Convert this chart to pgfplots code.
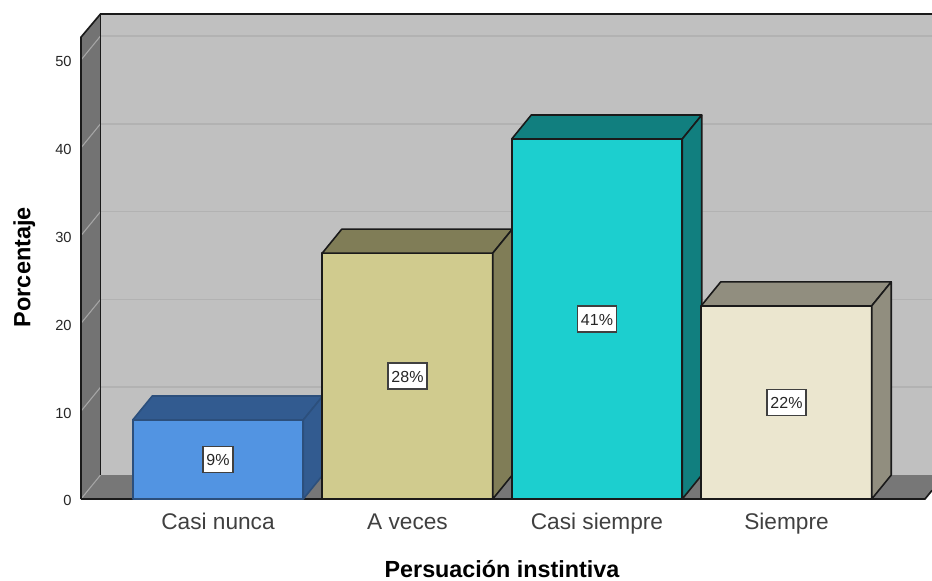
\documentclass[border=0pt]{standalone}
\usepackage{fontspec}
\setmainfont{Liberation Sans}
\usepackage{pgfplots}
\pgfplotsset{compat=1.18}
\definecolor{wallback}{HTML}{C0C0C0}
\definecolor{wallside}{HTML}{737373}
\definecolor{wallfloor}{HTML}{777777}
\definecolor{gridback}{HTML}{B2B2B2}
\definecolor{gridside}{HTML}{A6A6A6}
\definecolor{edge}{HTML}{1A1A1A}
\definecolor{blueF}{HTML}{5294E2}
\definecolor{blueD}{HTML}{325B90}
\definecolor{blueE}{HTML}{2C4F7C}
\definecolor{khakiF}{HTML}{D0CB8E}
\definecolor{khakiD}{HTML}{807D57}
\definecolor{cyanF}{HTML}{1CCFCF}
\definecolor{cyanD}{HTML}{117F7F}
\definecolor{creamF}{HTML}{EBE6CF}
\definecolor{creamD}{HTML}{918E7F}
\begin{document}
\begin{tikzpicture}
\path[use as bounding box] (0,0) rectangle (699pt,435.75pt);
\begin{axis}[
  at={(60.75pt,61.5pt)}, anchor=south west,
  scale only axis, width=638.25pt, height=363.75pt,
  xmin=-0.723, xmax=3.768, ymin=0, ymax=55.24,
  clip=false,
  axis line style={draw=none},
  tick style={draw=none},
  xtick={0,1,2,3},
  xticklabels={Casi nunca,A veces,Casi siempre,Siempre},
  ytick={0,10,20,30,40,50},
  /pgf/number format/assume math mode=true,
  xticklabel style={font=\fontsize{17pt}{19pt}\selectfont, text=black!75, text height=12pt, text depth=3.5pt, inner sep=0pt, yshift=-11pt},
  yticklabel style={font=\fontsize{11pt}{13pt}\selectfont, text=black!85, xshift=-3.5pt, yshift=-1.4pt},
  xlabel={Persuación instintiva},
  ylabel={Porcentaje},
  xlabel style={font=\bfseries\fontsize{17.5pt}{20pt}\selectfont, at={(axis description cs:0.4947,-0.144)}, anchor=center},
  ylabel style={font=\bfseries\fontsize{17.6pt}{20pt}\selectfont, at={(axis description cs:-0.0665,0.478)}, anchor=center},
]
% Chart box: back wall, left wall and floor
\addplot[fill=wallback, draw=none] coordinates {(-0.620,2.73)(-0.620,55.24)(3.768,55.24)(3.768,2.73)} -- cycle;
\addplot[fill=wallside, draw=none] coordinates {(-0.723,0)(-0.723,52.6)(-0.620,55.24)(-0.620,2.73)} -- cycle;
\addplot[fill=wallfloor, draw=none] coordinates {(-0.723,0)(-0.620,2.73)(3.768,2.73)(3.768,0.98)(3.731,0)} -- cycle;
% Gridlines on the back wall
\addplot[gridback, line width=1.3pt] coordinates {(-0.620,12.73)(3.768,12.73)};
\addplot[gridback, line width=1.3pt] coordinates {(-0.620,22.73)(3.768,22.73)};
\addplot[gridback, line width=1.3pt] coordinates {(-0.620,32.73)(3.768,32.73)};
\addplot[gridback, line width=1.3pt] coordinates {(-0.620,42.73)(3.768,42.73)};
\addplot[gridback, line width=1.3pt] coordinates {(-0.620,52.73)(3.768,52.73)};
% The same gridlines running across the left wall
\addplot[gridside, line width=0.8pt] coordinates {(-0.723,0)(-0.620,2.73)};
\addplot[gridside, line width=0.8pt] coordinates {(-0.723,10)(-0.620,12.73)};
\addplot[gridside, line width=0.8pt] coordinates {(-0.723,20)(-0.620,22.73)};
\addplot[gridside, line width=0.8pt] coordinates {(-0.723,30)(-0.620,32.73)};
\addplot[gridside, line width=0.8pt] coordinates {(-0.723,40)(-0.620,42.73)};
\addplot[gridside, line width=0.8pt] coordinates {(-0.723,50)(-0.620,52.73)};
% Box outline
\addplot[edge, line width=1.25pt] coordinates {(-0.723,0)(-0.723,52.6)(-0.620,55.24)(3.768,55.24)};
\addplot[edge, line width=1.25pt] coordinates {(-0.620,2.73)(-0.620,55.24)};
\addplot[edge, line width=1.25pt] coordinates {(-0.723,0)(3.731,0)(3.768,0.98)};
% Casi nunca
\addplot[fill=blueF, draw=blueE, line width=1.2pt, line join=round] coordinates {(-0.45,0)(-0.45,9)(0.45,9)(0.45,0)} -- cycle;
\addplot[fill=blueD, draw=blueE, line width=1.2pt, line join=round] coordinates {(-0.45,9)(-0.347,11.73)(0.553,11.73)(0.45,9)} -- cycle;
\addplot[fill=blueD, draw=blueE, line width=1.2pt, line join=round] coordinates {(0.45,0)(0.45,9)(0.553,11.73)(0.553,2.73)} -- cycle;
% A veces
\addplot[fill=khakiF, draw=edge, line width=1.2pt, line join=round] coordinates {(0.55,0)(0.55,28)(1.45,28)(1.45,0)} -- cycle;
\addplot[fill=khakiD, draw=edge, line width=1.2pt, line join=round] coordinates {(0.55,28)(0.653,30.73)(1.553,30.73)(1.45,28)} -- cycle;
\addplot[fill=khakiD, draw=edge, line width=1.2pt, line join=round] coordinates {(1.45,0)(1.45,28)(1.553,30.73)(1.553,2.73)} -- cycle;
% Casi siempre
\addplot[fill=cyanF, draw=edge, line width=1.2pt, line join=round] coordinates {(1.55,0)(1.55,41)(2.45,41)(2.45,0)} -- cycle;
\addplot[fill=cyanD, draw=edge, line width=1.2pt, line join=round] coordinates {(1.55,41)(1.653,43.73)(2.553,43.73)(2.45,41)} -- cycle;
\addplot[fill=cyanD, draw=edge, line width=1.2pt, line join=round] coordinates {(2.45,0)(2.45,41)(2.553,43.73)(2.553,2.73)} -- cycle;
% Siempre
\addplot[fill=creamF, draw=edge, line width=1.2pt, line join=round] coordinates {(2.55,0)(2.55,22)(3.45,22)(3.45,0)} -- cycle;
\addplot[fill=creamD, draw=edge, line width=1.2pt, line join=round] coordinates {(2.55,22)(2.653,24.73)(3.553,24.73)(3.45,22)} -- cycle;
\addplot[fill=creamD, draw=edge, line width=1.2pt, line join=round] coordinates {(3.45,0)(3.45,22)(3.553,24.73)(3.553,2.73)} -- cycle;
% Percentage labels at mid-height of each bar
\addplot[only marks, mark=none, point meta=explicit symbolic,
  nodes near coords={\pgfplotspointmeta\%},
  nodes near coords align={center},
  every node near coord/.append style={
    font=\fontsize{12pt}{14pt}\selectfont, fill=white, draw=black!75, line width=1pt,
    inner sep=0pt, minimum height=19.5pt, inner xsep=2.6pt, text height=9.5pt, text depth=0pt, text=black!85, anchor=center}]
  table[x=x, y=y, meta=pct] {
x y pct
0 4.5 9
1 14 28
2 20.5 41
3 11 22
};
\end{axis}
\end{tikzpicture}
\end{document}
